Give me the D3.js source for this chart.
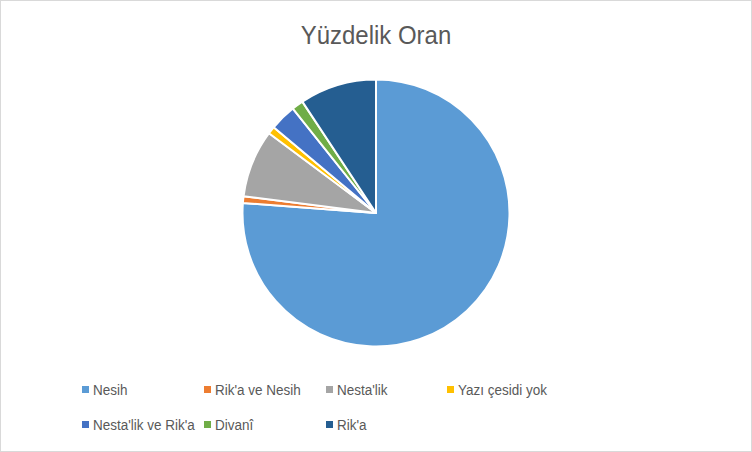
<!DOCTYPE html>
<html>
<head>
<meta charset="utf-8">
<script src="https://cdn.jsdelivr.net/npm/d3@7"></script>
<style>
  html, body { margin: 0; padding: 0; background: #fff; }
  svg { display: block; }
  text { font-family: "Liberation Sans", Arial, sans-serif; fill: #595959; }
</style>
</head>
<body>
<script>
const title = "Yüzdelik Oran";
const categories = ["Nesih", "Rik'a ve Nesih", "Nesta'lik", "Yazı çesidi yok", "Nesta'lik ve Rik'a", "Divanî", "Rik'a"];
const values = [76.2, 0.8, 8.2, 0.9, 3.2, 1.4, 9.3];
const colors = ["#5B9BD5", "#ED7D31", "#A5A5A5", "#FFC000", "#4472C4", "#70AD47", "#255E91"];

const W = 752, H = 452;
const svg = d3.select("body").append("svg").attr("width", W).attr("height", H);

svg.append("rect").attr("x", 0.5).attr("y", 0.5).attr("width", W - 1).attr("height", H - 1)
  .attr("fill", "#fff").attr("stroke", "#D9D9D9").attr("stroke-width", 1);

svg.append("text").attr("transform", "translate(376,44) scale(0.94,1)").attr("text-anchor", "middle")
  .style("font-size", "25.5px").text(title);

const data = categories.map((c, i) => ({ name: c, value: values[i], color: colors[i] }));
const pie = d3.pie().value(d => d.value).sort(null).startAngle(0).endAngle(2 * Math.PI);
const arc = d3.arc().innerRadius(0).outerRadius(133.5);

const g = svg.append("g").attr("transform", "translate(376,213)");
g.selectAll("path").data(pie(data)).join("path")
  .attr("d", arc).attr("fill", d => d.data.color)
  .attr("stroke", "#fff").attr("stroke-width", 2).attr("stroke-linejoin", "round");

const colX = [82, 204, 326, 447];
const rowY = [395, 430];
const leg = svg.append("g");
data.forEach((d, i) => {
  const col = i % 4, row = Math.floor(i / 4);
  const x = colX[col], y = rowY[row];
  leg.append("rect").attr("x", x).attr("y", y - 9).attr("width", 7).attr("height", 7).attr("fill", d.color);
  leg.append("text").attr("transform", `translate(${x + 11},${y}) scale(0.87,1)`)
    .style("font-size", "15.5px").text(d.name);
});
</script>
</body>
</html>
